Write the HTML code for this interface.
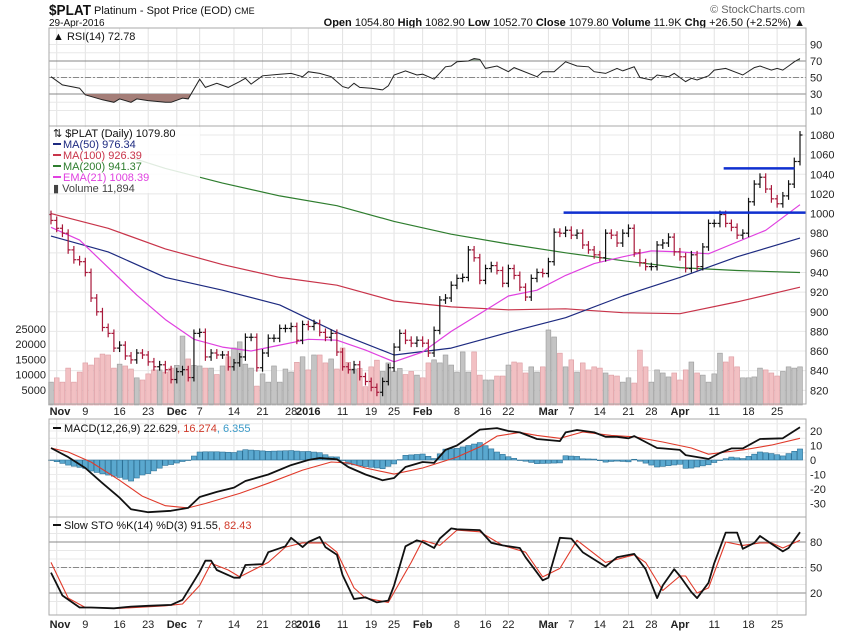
<!DOCTYPE html>
<html><head><meta charset="utf-8"><style>
html,body{margin:0;padding:0;background:#fff;}
svg{display:block;font-family:"Liberation Sans",sans-serif;}
</style></head><body>
<svg id="c" width="850" height="633" viewBox="0 0 850 633" xmlns="http://www.w3.org/2000/svg">
<rect width="850" height="633" fill="#fff"/>
<text x="49" y="15" font-size="15" font-weight="bold" fill="#111" textLength="42" lengthAdjust="spacingAndGlyphs">$PLAT</text>
<text x="94" y="14" font-size="11" fill="#111">Platinum  - Spot Price (EOD) <tspan font-size="9">CME</tspan></text>
<text x="49" y="26" font-size="10" fill="#111">29-Apr-2016</text>
<text x="805" y="13" font-size="11" fill="#666" text-anchor="end">© StockCharts.com</text>
<text x="805" y="26" font-size="11" fill="#111" text-anchor="end"><tspan font-weight="bold">Open</tspan> 1054.80 <tspan font-weight="bold">High</tspan> 1082.90 <tspan font-weight="bold">Low</tspan> 1052.70 <tspan font-weight="bold">Close</tspan> 1079.80 <tspan font-weight="bold">Volume</tspan> 11.9K <tspan font-weight="bold">Chg</tspan> +26.50 (+2.52%) ▲</text>
<g id="g"></g>
</svg>
<script>
const closes=[993,985,980,963,953,951,940,914,900,884,878,863,866,855,851,858,856,849,844,846,841,831,839,841,833,878,879,854,858,856,856,844,848,854,874,874,843,858,873,873,883,883,885,871,887,885,888,879,874,878,859,844,841,846,834,829,823,818,829,843,864,878,871,868,
871,868,858,881,912,914,927,934,935,963,955,932,944,947,942,929,944,937,925,915,934,940,939,951,981,980,983,978,980,968,963,958,955,980,978,970,980,985,960,950,946,946,968,970,976,961,956,944,958,946,966,990,990,999,990,986,978,980,
1012,1030,1037,1025,1015,1010,1018,1030,1053,1080];
const volumes=[7.5,8.9,7.5,12.1,7.5,10.8,13.8,13.1,15.4,16.7,16.4,12.1,13.4,12.8,11.8,8.9,8.2,10.2,11.5,11.5,10.8,12.1,13,22.6,15.1,13,12.8,12.1,12.1,10,12.8,15.8,18.7,20.7,13.4,12.1,6.2,10.2,7.5,12.8,7.5,11.8,10.8,14,15.8,11.5,16.4,16.4,13.8,15.1,11.8,18.7,14,11.8,12,6,12.5,14.7,11,13.8,11,12,10,11,
9.8,8.9,13.8,14.8,13.8,16.4,13.1,10.8,17.4,10.8,17.4,9.8,8.2,8.2,9.5,9.5,13.1,14.1,13.8,10.5,12.5,10.8,12.5,24.6,22.3,17,12.5,14.8,10.8,13.8,11.5,12.5,12.1,10.5,9.8,9.5,7.5,8.9,7.2,18,12.5,7.5,11.5,10.5,9.2,10.5,8.2,11.5,14.1,10.5,9.8,7.5,10.2,17,14.1,15.8,12.5,8.9,8.9,9.2,12.1,11.5,10.5,9.5,11,12.5,12.1,12.5];
const maDay=[0,10,20,30,40,50,60,70,80,90,100,110,120,131];
const ma50=[977,961,935,922,907,879,856,863,879,894,916,935,956,975];
const ma100=[1000,985,964,948,935,927,911,905,902,903,899,898,910,925];
const ma200Day=[14,20,30,40,50,60,70,80,90,100,110,120,131];
const ma200=[1057,1046,1031,1018,1008,992,979,969,960,952,945,942,940];
const emaDay=[0,5,10,15,20,25,30,35,40,45,50,55,60,65,70,75,80,85,90,95,100,105,110,115,120,125,131];
const ema21=[986,973,945,917,892,872,864,860,866,872,871,861,849,859,880,898,916,922,937,949,956,962,961,959,971,983,1009];
const rsiDay=[0,2,5,6,9,11,12,14,15,17,20,21,23,24,26,27,29,31,33,34,35,37,40,42,44,45,47,49,51,52,53,54,56,58,59,60,62,64,65,67,69,70,71,73,74,75,76,78,80,81,85,86,88,90,92,94,95,97,99,100,102,103,105,106,108,109,111,112,113,115,116,118,121,123,124,126,127,128,129,130,131];
const rsiVal=[51,41,37,29,23,20,24,20,24,22,20,20,25,24,48,38,43,38,45,49,42,52,54,55,51,57,55,51,39,37,43,38,37,35,40,53,58,53,54,48,63,64,69,70,73,72,61,64,57,62,51,57,57,69,64,63,57,55,61,58,63,50,47,53,51,55,45,49,47,52,59,61,53,62,64,59,61,59,64,69,73];
const macdDay=[0,3,6,9,12,14,17,21,24,26,29,32,34,38,42,45,47,50,52,55,58,60,62,65,67,69,71,75,78,80,82,85,89,90,92,95,97,99,101,102,106,107,110,111,114,115,117,119,121,124,128,131];
const macdVal=[8.3,2,-5.5,-16,-26,-34,-36,-35,-33,-25.5,-22,-19,-14.5,-10,-3.5,0,1.4,0.5,-4.8,-10,-14,-12.4,-4.8,-1.4,-2,7,10,21,22,20,19,14.5,13,19,20.7,19,16,16,15,16.5,8.3,8,7,3.4,1.4,0.7,4.8,8,8,14.5,15,22.6];
const sigDay=[0,3,7,12,16,20,24,27,33,38,44,49,52,55,60,65,71,75,78,82,85,89,93,98,102,107,112,115,118,121,126,131];
const sigVal=[8.3,5.5,-1.4,-14,-25,-31.5,-33,-30,-23,-16,-7,-1.4,-2,-5.5,-9.7,-5.5,2,9,16.5,19,17,15,19.3,17,16,12.4,8.3,4,5.5,7,10.3,15];
const kDay=[0,2,5,7,11,14,17,21,23,26,27,28,29,30,32,33,34,37,38,41,42,44,45,47,48,50,51,53,55,57,59,60,62,64,65,67,68,70,71,75,77,79,82,83,85,86,87,89,91,93,97,99,102,104,106,107,109,110,112,113,115,116,118,120,121,123,124,126,128,129,131];
const kVal=[44,17,3,3,2,4,5,6,12,45,58,58,47,44,38,38,53,54,68,75,85,74,80,86,74,65,41,13,15,9,11,29,75,82,80,73,84,96,95,94,79,76,73,62,44,35,38,85,84,68,51,62,66,48,14,29,48,40,21,14,32,55,91,91,72,79,87,78,69,73,91.5];
const dDay=[0,3,6,12,20,23,26,28,31,33,38,41,44,46,48,50,53,55,59,63,65,68,71,75,79,83,86,89,92,97,102,104,107,110,111,113,115,118,121,124,126,128,131];
const dVal=[56,14,3,2,5,7,29,55,47,39,56,74,79,79,79,68,26,14,9,56,82,76,94,92,76,68,39,49,82,56,65,56,23,40,40,20,26,80,76,79,79,73,82];
const tickDay=[1,6,12,17,22,26,32,37,42,45,51,56,60,65,71,76,80,87,91,96,101,105,110,116,122,127];
const tickLbl=["Nov","9","16","23","Dec","7","14","21","28","2016","11","19","25","Feb","8","16","22","Mar","7","14","21","28","Apr","11","18","25"];
const tickBold=[1,0,0,0,1,0,0,0,0,1,0,0,0,1,0,0,0,1,0,0,0,0,1,0,0,0];
const priceTicks=[1080,1060,1040,1020,1000,980,960,940,920,900,880,860,840,820];
const volTicks=[25000,20000,15000,10000,5000];
const resistLevels=[1001,1046];
const resistStart=[90,118];
const resistEnd=[131,129];

const NS="http://www.w3.org/2000/svg";
const G=document.getElementById('g');
const L=49,R=806,STEP=(800-51)/131;
const xOf=i=>51+i*STEP;
const yP=p=>135+(1080-p)*0.982;
const yV=v=>405-v*3.05;
const yR=v=>61+(70-v)*0.825;
const yM=v=>460-v*1.45;
const yS=v=>542+(80-v)*0.85;
const P={rsi:[28,126],main:[126,404],macd:[419,517],sto:[517,615]};
function mk(tag,at,parent){const e=document.createElementNS(NS,tag);for(const k in at)e.setAttribute(k,at[k]);(parent||G).appendChild(e);return e;}
function txt(x,y,s,at){const e=mk('text',Object.assign({x:x,y:y,'font-size':11,fill:'#222'},at||{}));e.textContent=s;return e;}
function interp(days,vals,i){if(i<=days[0])return vals[0];for(let k=1;k<days.length;k++){if(i<=days[k]){const t=(i-days[k-1])/(days[k]-days[k-1]);return vals[k-1]+t*(vals[k]-vals[k-1]);}}return vals[vals.length-1];}
function pts(days,vals,fy){return days.map((d,k)=>xOf(d).toFixed(1)+','+fy(vals[k]).toFixed(1)).join(' ');}

for(const key in P){const [t,b]=P[key];
  tickDay.forEach(d=>{const ln=mk('line',{x1:xOf(d),x2:xOf(d),y1:t,y2:b,stroke:'#e2e2e2','stroke-width':1});
  
  });
}
function hgrid(y,col,dash){const ln=mk('line',{x1:L,x2:R,y1:y,y2:y,stroke:col,'stroke-width':1});if(dash)ln.setAttribute('stroke-dasharray',dash);
  
  }
for(let v=10;v<=90;v+=10)hgrid(yR(v),'#e8e8e8');
priceTicks.forEach(p=>hgrid(yP(p),'#e8e8e8'));
for(let v=-30;v<=25;v+=5)hgrid(yM(v),'#ececec');
for(let v=10;v<=90;v+=10)hgrid(yS(v),'#e8e8e8');
hgrid(yR(70),'#888');hgrid(yR(30),'#888');hgrid(yR(50),'#888','6,2,2,2');
hgrid(yS(80),'#888');hgrid(yS(20),'#888');hgrid(yS(50),'#888','6,2,2,2');

const cb=mk('clipPath',{id:'cb'});mk('rect',{x:L,y:yR(30),width:R-L,height:40},cb);
const ca=mk('clipPath',{id:'ca'});mk('rect',{x:L,y:20,width:R-L,height:yR(70)-20},ca);
const rp=pts(rsiDay,rsiVal,yR);
const f1=mk('polygon',{points:rp+' '+xOf(131)+','+yR(30)+' '+xOf(0)+','+yR(30),fill:'#a47e78','clip-path':'url(#cb)'});


const f2=mk('polygon',{points:rp+' '+xOf(131)+','+yR(70)+' '+xOf(0)+','+yR(70),fill:'#8f9e8f','clip-path':'url(#ca)'});


const rl=mk('polyline',{points:rp,fill:'none',stroke:'#222','stroke-width':1});



closes.forEach((c,i)=>{const up=i===0||c>=closes[i-1];const v=volumes[i];
  const r=mk('rect',{x:xOf(i)-2.4,y:yV(v),width:4.8,height:405-yV(v),fill:up?'#c4c4c4':'#f2c0c3',stroke:up?'#9a9a9a':'#dc9aa0','stroke-width':0.6});
  
  });

function line(days,vals,fy,col,w,name){const e=mk('polyline',{points:pts(days,vals,fy),fill:'none',stroke:col,'stroke-width':w,'stroke-linejoin':'round'});
  
  return e;}
line(maDay,ma100,yP,'#c8344a',1.2,'ma100-line');
line(ma200Day,ma200,yP,'#2e7d2e',1.2,'ma200-line');
line(maDay,ma50,yP,'#1d2a80',1.2,'ma50-line');
line(emaDay,ema21,yP,'#e040e0',1.2,'ema21-line');

closes.forEach((c,i)=>{const o=i?closes[i-1]:c+6;const up=c>=o;const col=up?'#111':'#a8183a';const x=xOf(i);
  const hi=Math.max(o,c)+4,lo=Math.min(o,c)-4;
  const g=mk('g',{stroke:col,'stroke-width':1.2});
  
  
  mk('line',{x1:x,x2:x,y1:yP(hi),y2:yP(lo)},g);
  mk('line',{x1:x-2.5,x2:x,y1:yP(o),y2:yP(o)},g);
  mk('line',{x1:x,x2:x+2.5,y1:yP(c),y2:yP(c)},g);});

resistLevels.forEach((lv,k)=>{const e=mk('line',{x1:xOf(resistStart[k])-2,x2:Math.min(R,xOf(resistEnd[k])+6),y1:yP(lv),y2:yP(lv),stroke:'#1030d0','stroke-width':2.5});
  
  });

for(let i=0;i<closes.length;i++){const h=interp(macdDay,macdVal,i)-interp(sigDay,sigVal,i);const y0=yM(0),y1=yM(h);
  const r=mk('rect',{x:xOf(i)-2.6,y:Math.min(y0,y1),width:5.2,height:Math.max(0.5,Math.abs(y1-y0)),fill:'#5aa8cf',stroke:'#2d7196','stroke-width':0.6});
  
  }
line(sigDay,sigVal,yM,'#e03a2a',1.1,'macd-signal-line');
line(macdDay,macdVal,yM,'#111',1.8,'macd-line');
line(dDay,dVal,yS,'#e03a2a',1.1,'sto-d-line');
line(kDay,kVal,yS,'#111',1.8,'sto-k-line');

for(const key in P){const [t,b]=P[key];const e=mk('rect',{x:L,y:t,width:R-L,height:b-t,fill:'none',stroke:'#aaa','stroke-width':1});
  
  }

[90,70,50,30,10].forEach(v=>{const e=txt(810,yR(v)+4,String(v));
  
  });
priceTicks.forEach(p=>{const e=txt(810,yP(p)+4,String(p));
  
  });
[20,10,0,-10,-20,-30].forEach(v=>{const e=txt(810,yM(v)+4,String(v));
  
  });
[80,50,20].forEach(v=>{const e=txt(810,yS(v)+4,String(v));
  
  });
volTicks.forEach(v=>{const e=txt(46,yV(v/1000)+4,String(v),{'text-anchor':'end'});
  
  });
[415,628].forEach(yy=>{tickDay.forEach((d,k)=>{let x=xOf(d);if(k===0)x=Math.max(x,60);
  const e=txt(x,yy,tickLbl[k],{'text-anchor':'middle','font-size':11,'font-weight':tickBold[k]?'bold':'normal'});
  
  });});

const bg=mk('rect',{x:L+1,y:127,width:150,height:66,fill:'#fff','fill-opacity':0.85});


function leg(y,col,s,name){mk('line',{x1:53,x2:61,y1:y-4,y2:y-4,stroke:col,'stroke-width':2});const e=txt(63,y,s,{fill:col});
  
  }
const t0=txt(53,137,'⇅ $PLAT (Daily) 1079.80',{fill:'#111'});


leg(148,'#1d2a80','MA(50) 976.34','legend-ma50');
leg(159,'#c8344a','MA(100) 926.39','legend-ma100');
leg(170,'#2e7d2e','MA(200) 941.37','legend-ma200');
leg(181,'#e040e0','EMA(21) 1008.39','legend-ema21');
const tv=txt(53,192,'▮ Volume 11,894',{fill:'#444'});


const tr=txt(53,40,'▲ RSI(14) 72.78',{fill:'#111'});


mk('line',{x1:53,x2:61,y1:428,y2:428,stroke:'#111','stroke-width':2});
const tm=txt(64,432,'MACD(12,26,9) 22.629',{fill:'#111'});


const tm2=mk('tspan',{fill:'#d03a2a'},tm);tm2.textContent=', 16.274';
const tm3=mk('tspan',{fill:'#3a9ac8'},tm);tm3.textContent=', 6.355';
mk('line',{x1:53,x2:61,y1:525,y2:525,stroke:'#111','stroke-width':2});
const ts=txt(64,529,'Slow STO %K(14) %D(3) 91.55',{fill:'#111'});


const ts2=mk('tspan',{fill:'#d03a2a'},ts);ts2.textContent=', 82.43';
</script>
</body></html>
